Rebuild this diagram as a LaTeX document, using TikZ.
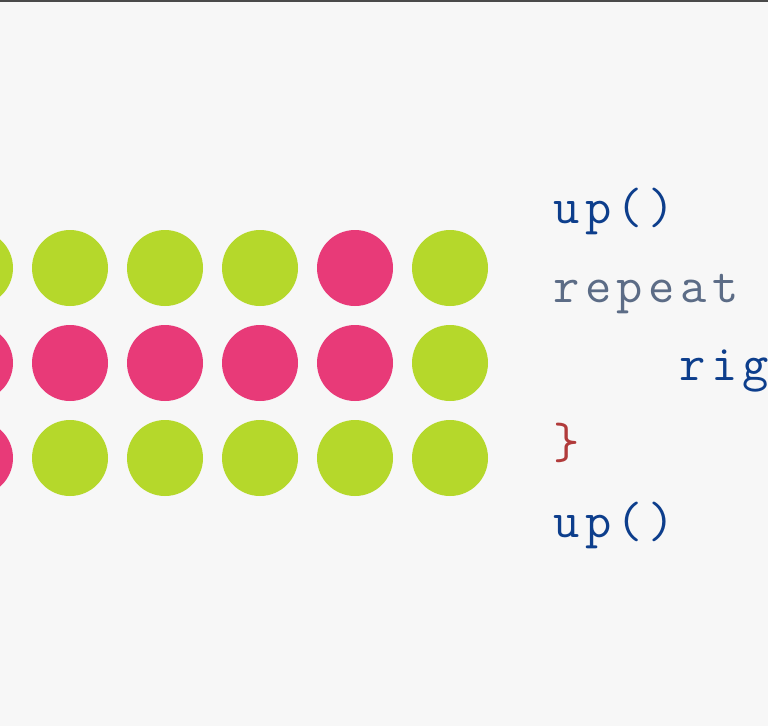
\documentclass[tikz,border=0pt]{standalone}
\usepackage{fontspec}
\newfontfamily\codefont[LetterSpace=11]{Latin Modern Mono}
\definecolor{bg}{HTML}{F7F7F7}
\definecolor{lime}{HTML}{B5D82B}
\definecolor{rose}{HTML}{E83A78}
\definecolor{codeblue}{HTML}{0D3E8C}
\definecolor{codegray}{HTML}{5C6C86}
\definecolor{codered}{HTML}{B13B3B}
\definecolor{topline}{HTML}{4A4A4A}
\tikzset{
  dot/.style={circle, inner sep=0pt, minimum size=76pt},
  g/.style={dot, fill=lime},
  p/.style={dot, fill=rose},
  code/.style={anchor=base west, inner sep=0pt, font=\codefont\fontsize{51pt}{51pt}\selectfont}
}
\begin{document}
\begin{tikzpicture}[x=1pt,y=-1pt]
\useasboundingbox (0,0) rectangle (768,726);
\fill[bg] (0,0) rectangle (768,726);
\clip (0,0) rectangle (768,726);
\draw[topline, line width=1.5pt] (0,0.75) -- (768,0.75);
% row 1
\node[g] (a0) at (-25,268) {};
\node[g] (a1) at (70,268) {};
\node[g] (a2) at (165,268) {};
\node[g] (a3) at (260,268) {};
\node[p] (a4) at (355,268) {};
\node[g] (a5) at (450,268) {};
% row 2
\node[p] (b0) at (-25,363) {};
\node[p] (b1) at (70,363) {};
\node[p] (b2) at (165,363) {};
\node[p] (b3) at (260,363) {};
\node[p] (b4) at (355,363) {};
\node[g] (b5) at (450,363) {};
% row 3
\node[p] (c0) at (-25,458) {};
\node[g] (c1) at (70,458) {};
\node[g] (c2) at (165,458) {};
\node[g] (c3) at (260,458) {};
\node[g] (c4) at (355,458) {};
\node[g] (c5) at (450,458) {};
% code
\node[code, text=codeblue] (l1) at (553,223) {up()};
\node[code, text=codegray] (l2) at (553,302) {repeat};
\node[code, text=codeblue] (l3) at (679,380) {rig};
\node[code, text=codered] (l4) at (553,458) {\}};
\node[code, text=codeblue] (l5) at (553,537) {up()};
\end{tikzpicture}
\end{document}
